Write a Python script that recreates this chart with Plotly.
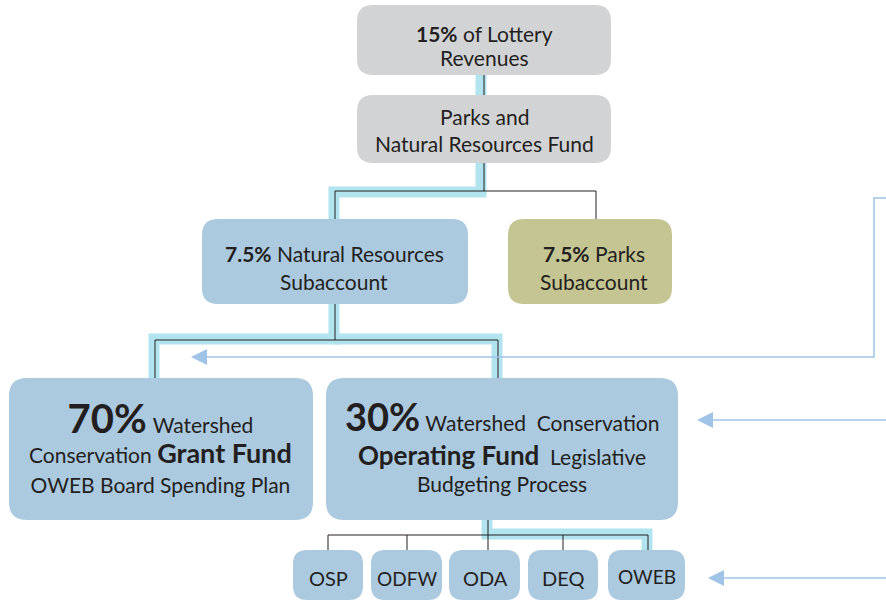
import plotly.graph_objects as go

# ---------------- data ----------------
node_ids = ["lottery", "pnrf", "nr_sub", "parks_sub", "grant", "operating",
            "OSP", "ODFW", "ODA", "DEQ", "OWEB"]
node_lines = {
    "lottery": ["<b>15%</b> of Lottery", "Revenues"],
    "pnrf": ["Parks and", "Natural Resources Fund"],
    "nr_sub": ["<b>7.5%</b> Natural Resources", "Subaccount"],
    "parks_sub": ["<b>7.5%</b> Parks", "Subaccount"],
    "grant": ["<span style='font-size:40px'><b>70%</b></span> "
              "<span style='font-size:21px'>Watershed</span>",
              "<span style='font-size:21px'>Conservation </span>"
              "<span style='font-size:27px'><b>Grant Fund</b></span>",
              "<span style='font-size:21px'>OWEB Board Spending Plan</span>"],
    "operating": ["<span style='font-size:38px'><b>30%</b></span> "
                  "<span style='font-size:21px'>Watershed  Conservation</span>",
                  "<span style='font-size:26px'><b>Operating Fund</b></span>"
                  "<span style='font-size:21px'>  Legislative</span>",
                  "<span style='font-size:21px'>Budgeting Process</span>"],
    "OSP": ["OSP"], "ODFW": ["ODFW"], "ODA": ["ODA"], "DEQ": ["DEQ"], "OWEB": ["OWEB"],
}
agencies = ["OSP", "ODFW", "ODA", "DEQ", "OWEB"]

# ---------------- layout (positions / styles) ----------------
W, H = 886, 600
GRAY, BLUE, OLIVE = "#d2d3d5", "#abc9df", "#c5c594"
CYAN, ARROW, INK = "#b2e4f0", "#9fc4e7", "#231f20"
FONT = "Lato"

boxes = {  # x0, y0, x1, y1, radius, fill
    "lottery": (357, 5, 611, 75, 16, GRAY),
    "pnrf": (357, 95, 611, 163, 16, GRAY),
    "nr_sub": (202, 219, 468, 304, 16, BLUE),
    "parks_sub": (508, 219, 672, 304, 16, OLIVE),
    "grant": (9, 378, 313, 520, 18, BLUE),
    "operating": (326, 378, 678, 520, 18, BLUE),
    "OSP": (293, 550, 363, 600, 14, BLUE),
    "ODFW": (371, 550, 442, 600, 14, BLUE),
    "ODA": (449, 550, 520, 600, 14, BLUE),
    "DEQ": (528, 550, 598, 600, 14, BLUE),
    "OWEB": (608, 550, 685, 600, 14, BLUE),
}
# centre x and line y; blocks with one y are drawn as a single multi-line text
text_pos = {
    "lottery": (484, [33, 57]),
    "pnrf": (484, [116, 143]),
    "nr_sub": (334, [253, 281]),
    "parks_sub": (594, [253, 281]),
    "grant": (160, [445]),
    "operating": (502, [416, 455, 483]),
    "OSP": (328, [578]), "ODFW": (407, [578]), "ODA": (485, [578]),
    "DEQ": (563, [578]), "OWEB": (647, [576]),
}
font_sizes = {"OSP": 20, "ODFW": 19, "ODA": 20, "DEQ": 20, "OWEB": 19,
              "grant": 23}


def rrect(x0, y0, x1, y1, r):
    return (f"M {x0+r},{y0} L {x1-r},{y0} Q {x1},{y0} {x1},{y0+r} "
            f"L {x1},{y1-r} Q {x1},{y1} {x1-r},{y1} L {x0+r},{y1} "
            f"Q {x0},{y1} {x0},{y1-r} L {x0},{y0+r} Q {x0},{y0} {x0+r},{y0} Z")


def poly(pts):
    return "M " + " L ".join(f"{x},{y}" for x, y in pts)


shapes = []

# cyan highlight paths (behind)
cyan_paths = [
    [(481, 75), (481, 95)],
    [(481, 163), (481, 192), (334, 192), (334, 219)],
    [(334, 304), (334, 339), (154, 339), (154, 378)],
    [(334, 339), (497, 339), (497, 378)],
    [(487, 520), (487, 534), (647, 534), (647, 550)],
]
for p in cyan_paths:
    shapes.append(dict(type="path", path=poly(p), line=dict(color=CYAN, width=11),
                       layer="below"))

# thin black connectors
black_paths = [
    [(484, 75), (484, 95)],
    [(484, 163), (484, 191)],
    [(335, 191), (596, 191)],
    [(335, 191), (335, 219)],
    [(596, 191), (596, 219)],
    [(335, 304), (335, 340)],
    [(155, 340), (498, 340)],
    [(155, 340), (155, 378)],
    [(498, 340), (498, 378)],
    [(488, 520), (488, 535)],
    [(328, 535), (648, 535)],
]
agency_x = [328, 407, 488, 563, 648]
for ax_ in agency_x:
    black_paths.append([(ax_, 535), (ax_, 550)])
for p in black_paths:
    shapes.append(dict(type="path", path=poly(p), line=dict(color=INK, width=1),
                       layer="below"))

# boxes
for nid in node_ids:
    x0, y0, x1, y1, r, fill = boxes[nid]
    shapes.append(dict(type="path", path=rrect(x0, y0, x1, y1, r),
                       fillcolor=fill, line=dict(width=0), layer="above"))

# right-side arrows
arrow_lines = [
    [(886, 198), (874, 198), (874, 357), (205, 357)],
    [(886, 420), (710, 420)],
    [(886, 578), (721, 578)],
]
arrow_tips = [(191, 357), (697, 420), (708, 578)]
for p in arrow_lines:
    shapes.append(dict(type="path", path=poly(p), line=dict(color=ARROW, width=1.5)))
for tx, ty in arrow_tips:
    shapes.append(dict(type="path",
                       path=f"M {tx},{ty} L {tx+16},{ty-8} L {tx+16},{ty+8} Z",
                       fillcolor=ARROW, line=dict(width=0)))

annotations = []
for nid in node_ids:
    cx, ys = text_pos[nid]
    fs = font_sizes.get(nid, 21)
    lines = node_lines[nid]
    if len(ys) == 1 and len(lines) > 1:
        pairs = [("<br>".join(lines), ys[0])]
    else:
        pairs = list(zip(lines, ys))
    for txt, y in pairs:
        annotations.append(dict(x=cx, y=y, xref="x", yref="y", text=txt,
                                showarrow=False, xanchor="center", yanchor="middle",
                                align="center",
                                font=dict(family=FONT, size=fs, color=INK)))

fig = go.Figure()
fig.update_layout(
    width=W, height=H, margin=dict(l=0, r=0, t=0, b=0),
    paper_bgcolor="white", plot_bgcolor="white",
    xaxis=dict(range=[0, W], visible=False, fixedrange=True),
    yaxis=dict(range=[H, 0], visible=False, fixedrange=True),
    shapes=shapes, annotations=annotations, showlegend=False,
)
fig.write_html("out.html", config={"displayModeBar": False},
               post_script="document.body.style.margin='0';document.body.style.overflow='hidden';")
